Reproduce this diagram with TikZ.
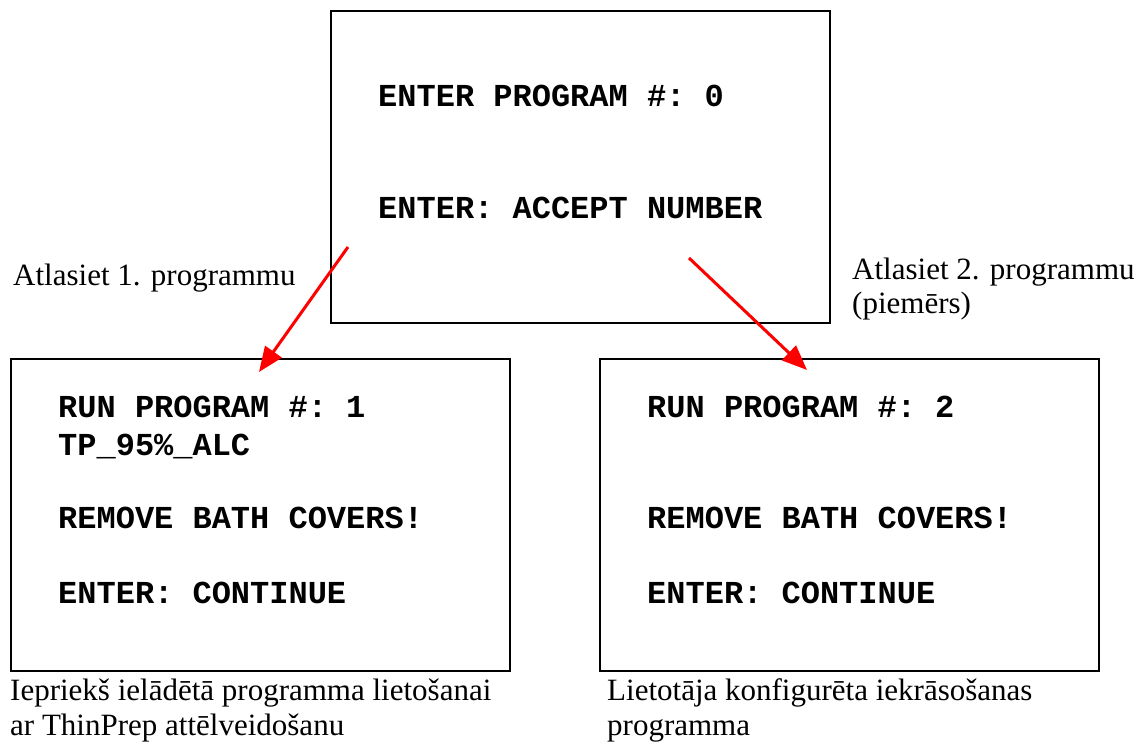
\documentclass[tikz,border=0pt]{standalone}
\usepackage{fontspec}
\setmainfont{Liberation Serif}
\setmonofont{Liberation Mono}
\usetikzlibrary{arrows.meta}

\tikzset{
  screen/.style={draw,line width=2pt,minimum width=499pt,minimum height=312pt,inner sep=0pt},
  lcd/.style={font=\ttfamily\bfseries\fontsize{32}{37}\selectfont,anchor=base west,inner sep=0pt},
  caption/.style={font=\fontsize{31}{35}\selectfont,anchor=base west,inner sep=0pt},
  pick/.style={red,line width=3pt,-{Triangle[length=25pt,width=20pt]}}
}

\begin{document}
\begin{tikzpicture}[x=1pt,y=-1pt]
    \useasboundingbox (0,0) rectangle (1138,749);
    % the three screens
    \node[screen] (top) at (580.5,167) {};
    \node[screen] (left) at (260.5,515) {};
    \node[screen] (right) at (849,515) {};
    % top screen
    \node[lcd] (t1) at (378,107) {ENTER PROGRAM \#: 0};
    \node[lcd] (t2) at (378,218) {ENTER: ACCEPT NUMBER};
    % program screens
    \node[lcd] (l1) at (58,417) {RUN PROGRAM \#: 1};
    \node[lcd] (l2) at (58,455) {TP\_95\%\_ALC};
    \node[lcd] (r1) at (647,417) {RUN PROGRAM \#: 2};
    \foreach \x/\s in {58/l,647/r}
    {
      \node[lcd] (\s3) at (\x,528) {REMOVE BATH COVERS!};
      \node[lcd] (\s4) at (\x,603) {ENTER: CONTINUE};
    }
    % captions
    \node[caption] (sel1) at (13,285) {Atlasiet 1. programmu};
    \node[caption] (sel2a) at (852,279) {Atlasiet 2. programmu};
    \node[caption] (sel2b) at (852,313) {(piemērs)};
    \node[caption] (capla) at (10,700) {Iepriekš ielādētā programma lietošanai};
    \node[caption] (caplb) at (10,735) {ar ThinPrep attēlveidošanu};
    \node[caption] (capra) at (607,700) {Lietotāja konfigurēta iekrāsošanas};
    \node[caption] (caprb) at (607,735) {programma};
    % selection arrows
    \coordinate (fromL) at (348,247);
    \coordinate (toL) at (259,372);
    \coordinate (fromR) at (689,258);
    \coordinate (toR) at (807,370);
    \draw[pick] (fromL) -- (toL);
    \draw[pick] (fromR) -- (toR);
\end{tikzpicture}
\end{document}
